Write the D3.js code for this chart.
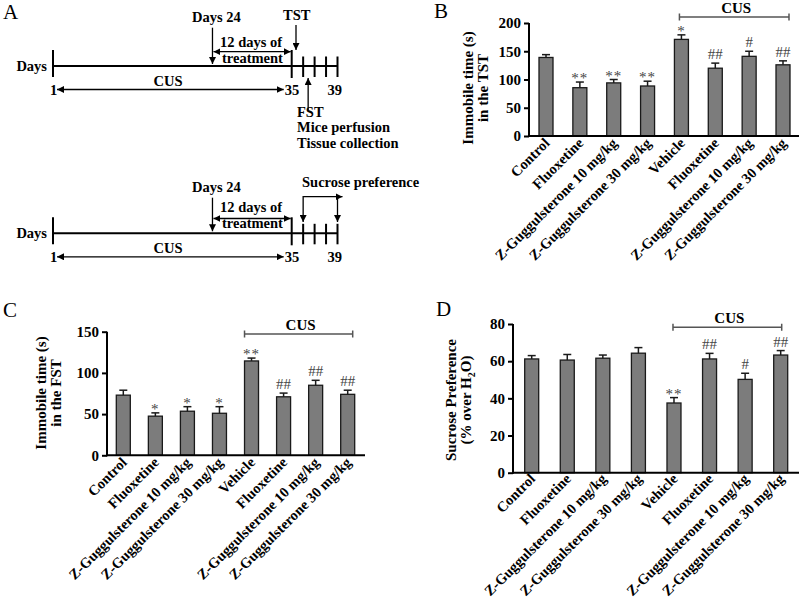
<!DOCTYPE html>
<html><head><meta charset="utf-8">
<script src="https://cdn.jsdelivr.net/npm/d3@7"></script>
<style>
body{margin:0;background:#fff;}
svg{display:block;font-family:"Liberation Serif","Times New Roman",serif;}
</style></head>
<body><svg id="c" width="800" height="604"></svg>
<script>
// ---------- DATA ----------
const categories = ["Control","Fluoxetine","Z-Guggulsterone 10 mg/kg","Z-Guggulsterone 30 mg/kg","Vehicle","Fluoxetine","Z-Guggulsterone 10 mg/kg","Z-Guggulsterone 30 mg/kg"];

const tstMean = [139, 85.5, 94, 88.5, 171, 120, 141, 126];
const tstErr  = [5, 10, 6, 8.5, 8, 9, 9, 7];
const tstMarks = ["", "**", "**", "**", "*", "##", "#", "##"];
const tstTicks = [0, 50, 100, 150, 200];

const fstMean = [73, 47.5, 53.5, 51, 114.5, 71, 85, 74];
const fstErr  = [6, 4, 5.5, 8, 3.5, 4.5, 6, 5];
const fstMarks = ["", "*", "*", "*", "**", "##", "##", "##"];
const fstTicks = [0, 50, 100, 150];

const spMean = [61.2, 60.6, 61.6, 64.3, 37.5, 61.2, 50.2, 63.3];
const spErr  = [1.8, 3, 1.7, 3, 2.9, 3, 3.3, 2.4];
const spMarks = ["", "", "", "", "**", "##", "#", "##"];
const spTicks = [0, 20, 40, 60, 80];

const cusStartDay = 1, treatStartDay = 24, cusEndDay = 35, lastDay = 39;
const testDays = [36, 37, 38, 39];

// ---------- DRAW ----------
const svg = d3.select("#c");
const FONT = '"Liberation Serif","Times New Roman",serif';

// arrow marker
const defs = svg.append("defs");
defs.append("marker").attr("id","ah").attr("viewBox","0 0 10 10").attr("refX",10).attr("refY",5)
  .attr("markerWidth",7).attr("markerHeight",7).attr("markerUnits","userSpaceOnUse").attr("orient","auto-start-reverse")
  .append("path").attr("d","M0,0L10,5L0,10Z").attr("fill","#000");

function panelLetter(t, x, y){
  svg.append("text").attr("x",x).attr("y",y).attr("font-size",21).attr("fill","#000").text(t);
}

function barPanel(opt){
  const g = svg.append("g");
  const y = d3.scaleLinear().domain([0, opt.ymax]).range([opt.y0, opt.y1]);
  const x = d3.scalePoint().domain(d3.range(categories.length)).range([opt.c0, opt.c1]);
  const bw = 14;
  // bars
  g.selectAll("rect.bar").data(opt.mean).join("rect")
    .attr("x",(d,i)=>x(i)-bw/2).attr("y",d=>y(d)).attr("width",bw).attr("height",d=>y(0)-y(d))
    .attr("fill","#7c7c7c").attr("stroke","#1a1a1a").attr("stroke-width",1.3);
  // error bars
  g.selectAll("line.err").data(opt.mean).join("line")
    .attr("x1",(d,i)=>x(i)).attr("x2",(d,i)=>x(i)).attr("y1",d=>y(d)).attr("y2",(d,i)=>y(d+opt.err[i]))
    .attr("stroke","#1a1a1a").attr("stroke-width",1.5);
  g.selectAll("line.cap").data(opt.mean).join("line")
    .attr("x1",(d,i)=>x(i)-4).attr("x2",(d,i)=>x(i)+4).attr("y1",(d,i)=>y(d+opt.err[i])).attr("y2",(d,i)=>y(d+opt.err[i]))
    .attr("stroke","#1a1a1a").attr("stroke-width",1.5);
  // marks
  g.selectAll("text.mark").data(opt.marks).join("text")
    .attr("x",(d,i)=>x(i)).attr("y",(d,i)=>y(opt.mean[i]+opt.err[i]) + (d.startsWith("*")? 1 : -4))
    .attr("text-anchor","middle").attr("font-size",15).attr("fill","#444")
    .attr("letter-spacing", d=>d.startsWith("*")?"1px":"0px")
    .text(d=>d);
  // y axis
  const ya = g.append("g").attr("transform",`translate(${opt.x0},0)`)
    .call(d3.axisLeft(y).tickValues(opt.ticks).tickSize(5).tickPadding(3));
  ya.select(".domain").attr("stroke","#000").attr("stroke-width",2).attr("d",`M0,${opt.y0+1}V${opt.y1}`);
  ya.selectAll(".tick line").attr("stroke","#000").attr("stroke-width",2);
  ya.selectAll(".tick text").attr("font-family",FONT).attr("font-size",15).attr("font-weight","bold").attr("fill","#000");
  // x axis
  const xa = g.append("g").attr("transform",`translate(0,${opt.y0})`)
    .call(d3.axisBottom(x).tickSize(0).tickFormat(i=>categories[i]));
  xa.select(".domain").attr("stroke","#000").attr("stroke-width",2).attr("d",`M${opt.x0},0H${opt.xEnd}`);
  xa.selectAll(".tick text").attr("font-family",FONT).attr("font-size",14.5).attr("font-weight","bold").attr("fill","#000")
    .attr("text-anchor","end").attr("x",0).attr("y",0).attr("dy",0)
    .attr("transform",`translate(${opt.lx},${opt.ly}) rotate(-45)`);
  // y label
  opt.ylab.forEach((l,k)=>{
    const t = g.append("text").attr("transform",`translate(${opt.ylx[k]},${opt.lyc}) rotate(-90)`)
      .attr("text-anchor","middle").attr("font-size",15).attr("font-weight","bold").attr("fill","#000");
    if (Array.isArray(l)) {
      l.forEach(p=>{ const s = t.append("tspan").text(p.t); if (p.sub) s.attr("font-size",10).attr("dy",4); else if (p.after) s.attr("dy",-4); });
    } else t.text(l);
  });
  // CUS bracket
  const bx0 = x(4)+opt.br[0], bx1 = x(7)+opt.br[1], by = opt.by;
  g.append("path").attr("d",`M${bx0},${by-3.5}V${by+3.5}M${bx0},${by}H${bx1}M${bx1},${by-3.5}V${by+3.5}`)
    .attr("stroke","#555").attr("stroke-width",1.5).attr("fill","none");
  g.append("text").attr("x",(bx0+bx1)/2+2).attr("y",by-4).attr("text-anchor","middle")
    .attr("font-size",15).attr("font-weight","bold").attr("fill","#000").text("CUS");
}

panelLetter("B", 434, 18);
barPanel({mean:tstMean, err:tstErr, marks:tstMarks, ticks:tstTicks, ymax:200, y0:136, y1:23,
  x0:529, xEnd:799, c0:546, c1:783, lx:4, ly:8,
  ylab:["Immobile time (s)","in the TST"], ylx:[473,488], lyc:88, br:[-2,6], by:17});

panelLetter("C", 3, 317);
barPanel({mean:fstMean, err:fstErr, marks:fstMarks, ticks:fstTicks, ymax:150, y0:455.3, y1:331.7,
  x0:107, xEnd:365, c0:123.3, c1:347.7, lx:4, ly:8,
  ylab:["Immobile time (s)","in the FST"], ylx:[46,61], lyc:393, br:[-7,5], by:334});

panelLetter("D", 436, 316);
barPanel({mean:spMean, err:spErr, marks:spMarks, ticks:spTicks, ymax:80, y0:472.7, y1:324,
  x0:513, xEnd:799, c0:531.7, c1:780.7, lx:4, ly:7,
  ylab:["Sucrose Preference",[{t:"(% over H"},{t:"2",sub:true},{t:"O)",after:true}]], ylx:[456,471], lyc:400, br:[-1,1], by:327.3});

// ---------- PANEL A : timelines ----------
panelLetter("A", 3, 19);
const tl = d3.scaleLinear().domain([cusStartDay, cusEndDay, lastDay]).range([53, 291.7, 337.5]);
const A = svg.append("g");
function txt(t,x,y,anchor){ return A.append("text").attr("x",x).attr("y",y).attr("text-anchor",anchor||"start")
  .attr("font-size",14.5).attr("font-weight","bold").attr("fill","#000").text(t); }
function ln(x1,y1,x2,y2,w,arrowEnd,arrowStart){
  const l = A.append("line").attr("x1",x1).attr("y1",y1).attr("x2",x2).attr("y2",y2).attr("stroke","#000").attr("stroke-width",w||1.3);
  if(arrowEnd) l.attr("marker-end","url(#ah)");
  if(arrowStart) l.attr("marker-start","url(#ah)");
  return l;
}
function timeline(o){
  ln(tl(cusStartDay), o.ly, tl(lastDay), o.ly, 2);
  ln(tl(cusStartDay), o.ly-16, tl(cusStartDay), o.ly+11, 2);
  ln(tl(cusEndDay), o.ly-16, tl(cusEndDay), o.ly+12, 2);
  testDays.forEach(d=> ln(tl(d), o.ly-9.5, tl(d), o.ly+11, 2));
  txt("Days", 47, o.ly+5, "end");
  txt("1", 50, o.ly+29);
  txt("35", tl(cusEndDay)-7, o.ly+29);
  txt("39", tl(lastDay)-10, o.ly+29);
  ln(tl(cusStartDay)+4, o.ly+23.5, tl(cusEndDay)-8, o.ly+23.5, 1.3, true, true);
  txt("CUS", 168, o.ly+19.5, "middle");
  txt("Days 24", 192, o.d24);
  ln(tl(treatStartDay)-2, o.d24+6, tl(treatStartDay)-2, o.ly-2, 1.3, true);
  txt("12 days of", 220, o.t1);
  ln(tl(treatStartDay)-1, o.ta, tl(cusEndDay)-1, o.ta, 1.3, true, true);
  txt("treatment", 222, o.t2);
}
timeline({ly:66, d24:21.7, t1:47, ta:51.7, t2:63});
txt("TST", 283, 20);
ln(296, 25, 296, 50, 1.3, true);
ln(tl(36)+5, 110, tl(36)+5, 78, 1.3, true);
txt("FST", 297, 117);
txt("Mice perfusion", 297, 131.7);
txt("Tissue collection", 297, 148);

timeline({ly:233.3, d24:191.7, t1:211.7, ta:218.5, t2:228.3});
txt("Sucrose preference", 302, 186.7);
A.append("path").attr("d",`M${tl(36)},196.7H${tl(lastDay)+5}`).attr("stroke","#000").attr("stroke-width",1.3).attr("marker-end","url(#ah)");
ln(tl(36), 196, tl(36), 222, 1.3, true);
ln(tl(lastDay), 196.7, tl(lastDay), 222, 1.3, true);
</script></body></html>
